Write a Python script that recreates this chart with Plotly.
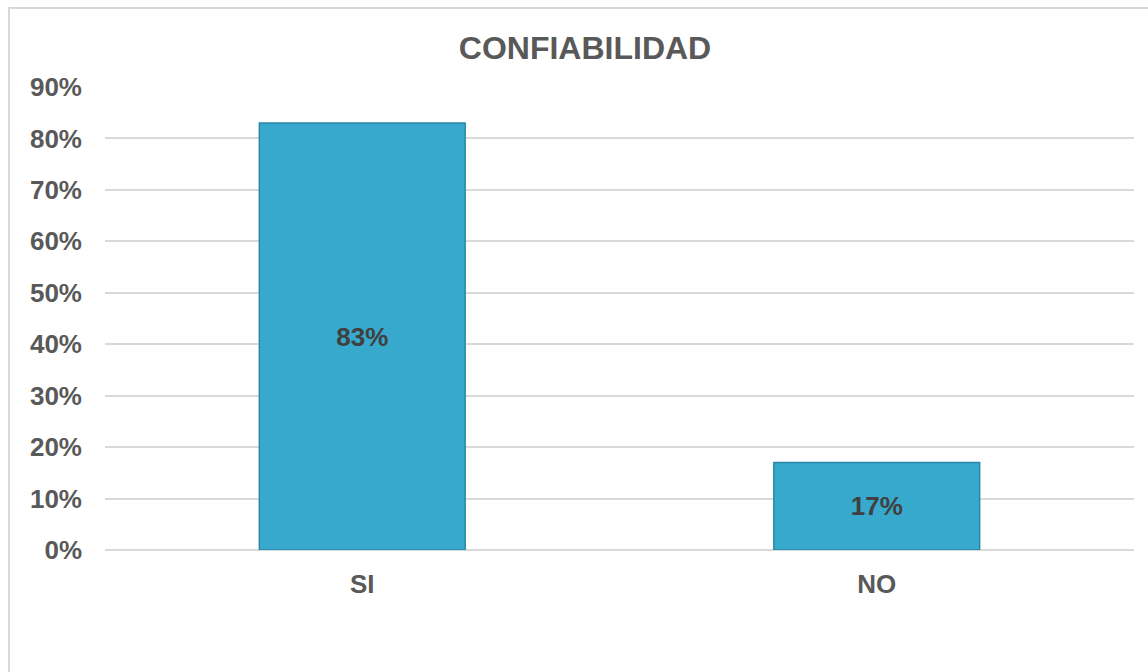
import plotly.graph_objects as go

categories = ["SI", "NO"]
values = [0.83, 0.17]
tick_vals = [0, 0.1, 0.2, 0.3, 0.4, 0.5, 0.6, 0.7, 0.8, 0.9]
tick_text = ["0%", "10%", "20%", "30%", "40%", "50%", "60%", "70%", "80%", "90%"]
title_text = "CONFIABILIDAD"

font_family = "Liberation Sans, Arial, sans-serif"

fig = go.Figure()
fig.add_trace(go.Bar(
    x=categories,
    y=values,
    text=[f"{round(v*100)}%" for v in values],
    textposition="inside",
    insidetextanchor="middle",
    textangle=0,
    textfont=dict(family=font_family, size=26, color="#404040", weight="bold"),
    marker=dict(color="#37A9CD", line=dict(color="#2A87A6", width=1.5)),
    hoverinfo="skip",
))

fig.update_layout(
    width=1148, height=672,
    margin=dict(l=105, r=14, t=87, b=122),
    paper_bgcolor="white", plot_bgcolor="white",
    bargap=0.6,
    showlegend=False,
    title=dict(text=title_text, x=585/1148, xref="container", xanchor="center",
               y=1 - 48/672, yanchor="middle",
               font=dict(family=font_family, size=32, color="#595959", weight="bold")),
    xaxis=dict(showgrid=False, showline=False, ticks="",
               tickfont=dict(family=font_family, size=26, color="#595959", weight="bold"),
               ticklabelstandoff=16),
    yaxis=dict(range=[0, 0.9], tickvals=tick_vals, ticktext=tick_text,
               showgrid=True, gridcolor="#D9D9D9", gridwidth=2,
               zeroline=True, zerolinecolor="#D9D9D9", zerolinewidth=2,
               showline=False, ticks="",
               tickfont=dict(family=font_family, size=26, color="#595959", weight="bold"),
               ticklabelstandoff=22),
    shapes=[dict(type="rect", xref="paper", yref="paper",
                 x0=(9-105)/1029, x1=1.2, y0=-0.5, y1=1 + 79/463,
                 line=dict(color="#D9D9D9", width=2), fillcolor="rgba(0,0,0,0)",
                 layer="below")],
)

fig.write_html("out.html")
